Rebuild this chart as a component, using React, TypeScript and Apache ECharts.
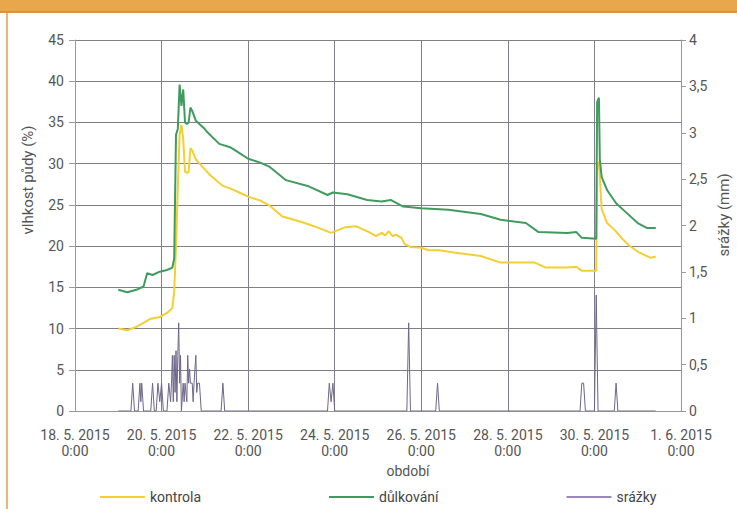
import React, { useEffect, useRef } from "react";
import * as echarts from "echarts";

// x tick labels (every 2 days from 18. 5. 2015 0:00)
const xTickLabels = [
  "18. 5. 2015",
  "20. 5. 2015",
  "22. 5. 2015",
  "24. 5. 2015",
  "26. 5. 2015",
  "28. 5. 2015",
  "30. 5. 2015",
  "1. 6. 2015",
];

// soil moisture, control (%)
const kontrola: [string, number][] = [
  ["2015-05-19 00:00", 10.0],
  ["2015-05-19 05:00", 9.8],
  ["2015-05-19 10:00", 10.2],
  ["2015-05-19 14:00", 10.7],
  ["2015-05-19 18:00", 11.2],
  ["2015-05-19 23:00", 11.4],
  ["2015-05-20 03:00", 11.9],
  ["2015-05-20 06:00", 12.5],
  ["2015-05-20 07:00", 14.5],
  ["2015-05-20 08:00", 20.0],
  ["2015-05-20 09:00", 27.0],
  ["2015-05-20 10:00", 33.5],
  ["2015-05-20 11:00", 34.7],
  ["2015-05-20 12:00", 33.0],
  ["2015-05-20 13:00", 29.0],
  ["2015-05-20 14:00", 28.9],
  ["2015-05-20 15:00", 29.0],
  ["2015-05-20 16:00", 31.9],
  ["2015-05-20 17:00", 31.6],
  ["2015-05-20 19:00", 30.5],
  ["2015-05-21 00:00", 29.3],
  ["2015-05-21 03:00", 28.6],
  ["2015-05-21 10:00", 27.3],
  ["2015-05-21 14:00", 27.0],
  ["2015-05-21 19:00", 26.5],
  ["2015-05-22 00:00", 26.0],
  ["2015-05-22 07:00", 25.5],
  ["2015-05-22 12:00", 24.9],
  ["2015-05-22 19:00", 23.6],
  ["2015-05-23 06:00", 22.9],
  ["2015-05-23 14:00", 22.3],
  ["2015-05-23 22:00", 21.6],
  ["2015-05-24 06:00", 22.3],
  ["2015-05-24 12:00", 22.4],
  ["2015-05-24 19:00", 21.7],
  ["2015-05-24 23:00", 21.2],
  ["2015-05-25 02:00", 21.6],
  ["2015-05-25 04:00", 21.3],
  ["2015-05-25 06:00", 21.8],
  ["2015-05-25 08:00", 21.2],
  ["2015-05-25 10:00", 21.4],
  ["2015-05-25 13:00", 21.0],
  ["2015-05-25 15:00", 20.2],
  ["2015-05-25 18:00", 19.9],
  ["2015-05-26 00:00", 19.8],
  ["2015-05-26 04:00", 19.5],
  ["2015-05-26 10:00", 19.5],
  ["2015-05-26 19:00", 19.2],
  ["2015-05-27 09:00", 18.8],
  ["2015-05-27 20:00", 18.0],
  ["2015-05-28 04:00", 18.0],
  ["2015-05-28 15:00", 18.0],
  ["2015-05-28 21:00", 17.4],
  ["2015-05-29 09:00", 17.4],
  ["2015-05-29 14:00", 17.5],
  ["2015-05-29 17:00", 17.0],
  ["2015-05-30 01:00", 17.0],
  ["2015-05-30 01:30", 30.0],
  ["2015-05-30 02:30", 30.2],
  ["2015-05-30 03:00", 28.4],
  ["2015-05-30 04:00", 24.5],
  ["2015-05-30 07:00", 22.8],
  ["2015-05-30 11:00", 22.0],
  ["2015-05-30 15:00", 21.0],
  ["2015-05-30 19:00", 20.1],
  ["2015-05-31 01:00", 19.2],
  ["2015-05-31 07:00", 18.6],
  ["2015-05-31 10:00", 18.7],
];

// soil moisture, pitting (%)
const dulkovani: [string, number][] = [
  ["2015-05-19 00:00", 14.7],
  ["2015-05-19 05:00", 14.4],
  ["2015-05-19 10:00", 14.7],
  ["2015-05-19 14:00", 15.1],
  ["2015-05-19 16:00", 16.7],
  ["2015-05-19 19:00", 16.5],
  ["2015-05-19 23:00", 16.9],
  ["2015-05-20 03:00", 17.1],
  ["2015-05-20 06:00", 17.4],
  ["2015-05-20 07:00", 18.5],
  ["2015-05-20 08:00", 33.5],
  ["2015-05-20 09:00", 34.2],
  ["2015-05-20 10:00", 39.6],
  ["2015-05-20 11:00", 37.0],
  ["2015-05-20 12:00", 39.0],
  ["2015-05-20 13:00", 35.0],
  ["2015-05-20 14:00", 34.8],
  ["2015-05-20 15:00", 35.0],
  ["2015-05-20 16:00", 36.8],
  ["2015-05-20 17:00", 36.4],
  ["2015-05-20 19:00", 35.2],
  ["2015-05-21 00:00", 34.2],
  ["2015-05-21 01:00", 33.9],
  ["2015-05-21 08:00", 32.4],
  ["2015-05-21 14:00", 32.0],
  ["2015-05-21 19:00", 31.3],
  ["2015-05-22 00:00", 30.6],
  ["2015-05-22 07:00", 30.1],
  ["2015-05-22 12:00", 29.6],
  ["2015-05-22 21:00", 28.0],
  ["2015-05-23 09:00", 27.3],
  ["2015-05-23 20:00", 26.2],
  ["2015-05-23 23:00", 26.5],
  ["2015-05-24 07:00", 26.3],
  ["2015-05-24 18:00", 25.6],
  ["2015-05-25 02:00", 25.4],
  ["2015-05-25 07:00", 25.6],
  ["2015-05-25 14:00", 24.8],
  ["2015-05-26 00:00", 24.6],
  ["2015-05-26 15:00", 24.4],
  ["2015-05-27 09:00", 23.9],
  ["2015-05-27 20:00", 23.2],
  ["2015-05-28 10:00", 22.8],
  ["2015-05-28 17:00", 21.7],
  ["2015-05-29 09:00", 21.6],
  ["2015-05-29 14:00", 21.7],
  ["2015-05-29 17:00", 21.0],
  ["2015-05-30 01:00", 20.9],
  ["2015-05-30 01:30", 37.5],
  ["2015-05-30 02:30", 38.0],
  ["2015-05-30 03:00", 30.5],
  ["2015-05-30 04:00", 28.4],
  ["2015-05-30 07:00", 26.8],
  ["2015-05-30 12:00", 25.2],
  ["2015-05-30 18:00", 24.0],
  ["2015-05-31 00:00", 22.8],
  ["2015-05-31 05:00", 22.2],
  ["2015-05-31 10:00", 22.2],
];

// precipitation (mm)
const srazky: [string, number][] = [
  ["2015-05-19 00:00", 0],
  ["2015-05-19 07:00", 0],
  ["2015-05-19 08:00", 0.3],
  ["2015-05-19 09:00", 0],
  ["2015-05-19 11:00", 0],
  ["2015-05-19 12:00", 0.3],
  ["2015-05-19 12:30", 0.1],
  ["2015-05-19 13:00", 0.3],
  ["2015-05-19 14:00", 0],
  ["2015-05-19 18:00", 0],
  ["2015-05-19 19:00", 0.3],
  ["2015-05-19 20:00", 0],
  ["2015-05-19 21:00", 0],
  ["2015-05-19 22:00", 0.3],
  ["2015-05-19 23:00", 0.1],
  ["2015-05-20 00:00", 0.3],
  ["2015-05-20 01:00", 0],
  ["2015-05-20 03:00", 0],
  ["2015-05-20 04:00", 0.3],
  ["2015-05-20 05:00", 0.1],
  ["2015-05-20 05:30", 0.3],
  ["2015-05-20 06:00", 0.6],
  ["2015-05-20 06:30", 0.1],
  ["2015-05-20 07:00", 0.6],
  ["2015-05-20 07:30", 0.2],
  ["2015-05-20 08:00", 0.65],
  ["2015-05-20 08:30", 0.1],
  ["2015-05-20 09:00", 0.6],
  ["2015-05-20 09:30", 0.95],
  ["2015-05-20 10:00", 0.3],
  ["2015-05-20 10:30", 0.6],
  ["2015-05-20 11:00", 0],
  ["2015-05-20 12:00", 0.3],
  ["2015-05-20 12:30", 0.1],
  ["2015-05-20 13:00", 0.3],
  ["2015-05-20 14:00", 0.1],
  ["2015-05-20 14:30", 0.6],
  ["2015-05-20 15:00", 0.3],
  ["2015-05-20 15:30", 0.45],
  ["2015-05-20 16:00", 0.3],
  ["2015-05-20 17:00", 0.3],
  ["2015-05-20 17:30", 0.1],
  ["2015-05-20 18:00", 0.3],
  ["2015-05-20 19:00", 0.6],
  ["2015-05-20 19:30", 0.2],
  ["2015-05-20 20:00", 0.3],
  ["2015-05-20 21:00", 0.3],
  ["2015-05-20 22:00", 0],
  ["2015-05-21 09:00", 0],
  ["2015-05-21 10:00", 0.3],
  ["2015-05-21 11:00", 0],
  ["2015-05-23 20:00", 0],
  ["2015-05-23 21:00", 0.3],
  ["2015-05-23 22:00", 0.1],
  ["2015-05-23 23:00", 0.3],
  ["2015-05-24 00:00", 0],
  ["2015-05-25 16:00", 0],
  ["2015-05-25 17:00", 0.95],
  ["2015-05-25 18:00", 0],
  ["2015-05-26 08:00", 0],
  ["2015-05-26 09:00", 0.3],
  ["2015-05-26 10:00", 0],
  ["2015-05-29 16:00", 0],
  ["2015-05-29 17:00", 0.3],
  ["2015-05-29 18:00", 0.3],
  ["2015-05-29 19:00", 0],
  ["2015-05-30 00:00", 0],
  ["2015-05-30 01:00", 1.25],
  ["2015-05-30 02:00", 0],
  ["2015-05-30 11:00", 0],
  ["2015-05-30 12:00", 0.3],
  ["2015-05-30 13:00", 0],
  ["2015-05-31 10:00", 0],
];

const START_MS = Date.UTC(2015, 4, 18, 0, 0);
const toHours = (s: string) => {
  const [d, t] = s.split(" ");
  const [y, m, day] = d.split("-").map(Number);
  const [h, mi] = t.split(":").map(Number);
  return (Date.UTC(y, m - 1, day, h, mi) - START_MS) / 3600000;
};
const toSeries = (arr: [string, number][]) => arr.map(([t, v]) => [toHours(t), v]);

const FONT = "Roboto, 'Liberation Sans', sans-serif";
const GRID_COLOR = "#7f7f8c";
const TEXT_COLOR = "#555";

export default function App() {
  const ref = useRef<HTMLDivElement>(null);
  useEffect(() => {
    if (!ref.current) return;
    const chart = echarts.init(ref.current, undefined, { renderer: "svg" });
    chart.setOption({
      animation: false,
      backgroundColor: "#ffffff",
      grid: { left: 75, right: 56, top: 40, bottom: 98 },
      legend: {
        left: 95,
        top: 485,
        itemGap: 128,
        itemWidth: 45,
        itemHeight: 2,
        icon: "rect",
        textStyle: { fontFamily: FONT, fontSize: 14, color: "#444" },
        data: ["kontrola", "důlkování", "srážky"],
      },
      xAxis: {
        type: "value",
        min: 0,
        max: 336,
        interval: 48,
        axisLine: { show: true, lineStyle: { color: "#999", width: 1 } },
        axisTick: { show: false },
        splitLine: { show: true, lineStyle: { color: GRID_COLOR, width: 1 } },
        axisLabel: {
          formatter: (v: number) => `${xTickLabels[Math.round(v / 48)]}\n0:00`,
          margin: 16,
          showMinLabel: true,
          showMaxLabel: true,
          fontFamily: FONT,
          fontSize: 14,
          lineHeight: 16,
          color: TEXT_COLOR,
        },
      },
      yAxis: [
        {
          type: "value",
          min: 0,
          max: 45,
          interval: 5,
          axisLine: { show: true, lineStyle: { color: "#999", width: 1 } },
          axisTick: { show: true, length: 6, lineStyle: { color: "#999" } },
          splitLine: { show: true, lineStyle: { color: GRID_COLOR, width: 1 } },
          axisLabel: { margin: 11, fontFamily: FONT, fontSize: 14, color: TEXT_COLOR },
        },
        {
          type: "value",
          position: "right",
          min: 0,
          max: 4,
          interval: 0.5,
          axisLine: { show: true, lineStyle: { color: "#999", width: 1 } },
          axisTick: { show: true, length: 5, lineStyle: { color: "#999" } },
          splitLine: { show: false },
          axisLabel: {
            margin: 8,
            fontFamily: FONT,
            fontSize: 14,
            color: TEXT_COLOR,
            formatter: (v: number) => String(v).replace(".", ","),
          },
        },
      ],
      series: [
        {
          name: "kontrola",
          type: "line",
          yAxisIndex: 0,
          symbol: "none",
          lineStyle: { color: "#f3cf33", width: 2 },
          itemStyle: { color: "#f3cf33" },
          data: toSeries(kontrola),
        },
        {
          name: "důlkování",
          type: "line",
          yAxisIndex: 0,
          symbol: "none",
          lineStyle: { color: "#3f9c5d", width: 2 },
          itemStyle: { color: "#3f9c5d" },
          data: toSeries(dulkovani),
        },
        {
          name: "srážky",
          type: "line",
          yAxisIndex: 1,
          symbol: "none",
          lineStyle: { color: "#6e6688", width: 1 },
          itemStyle: { color: "#9a88b8" },
          data: toSeries(srazky),
        },
      ],
      graphic: [
        { type: "rect", shape: { x: 0, y: 0, width: 737, height: 13 }, style: { fill: "#e8a74b" }, silent: true },
        { type: "rect", shape: { x: 0, y: 11, width: 737, height: 2 }, style: { fill: "#d9933a" }, silent: true },
        { type: "rect", shape: { x: 6, y: 13, width: 2, height: 496 }, style: { fill: "#ebb57c" }, silent: true },
        {
          type: "text",
          x: 28,
          y: 180,
          rotation: Math.PI / 2,
          style: {
            text: "vlhkost půdy (%)",
            fontFamily: FONT,
            fontSize: 15,
            fill: TEXT_COLOR,
            textAlign: "center",
            textVerticalAlign: "middle",
          },
        },
        {
          type: "text",
          x: 724,
          y: 215,
          rotation: Math.PI / 2,
          style: {
            text: "srážky (mm)",
            fontFamily: FONT,
            fontSize: 15,
            fill: TEXT_COLOR,
            textAlign: "center",
            textVerticalAlign: "middle",
          },
        },
        {
          type: "text",
          x: 408,
          y: 471,
          style: {
            text: "období",
            fontFamily: FONT,
            fontSize: 14,
            fill: TEXT_COLOR,
            textAlign: "center",
            textVerticalAlign: "middle",
          },
        },
      ],
    });
    return () => chart.dispose();
  }, []);
  return (
    <div
      ref={ref}
      style={{ position: "fixed", left: 0, top: 0, width: 737, height: 509 }}
    />
  );
}
